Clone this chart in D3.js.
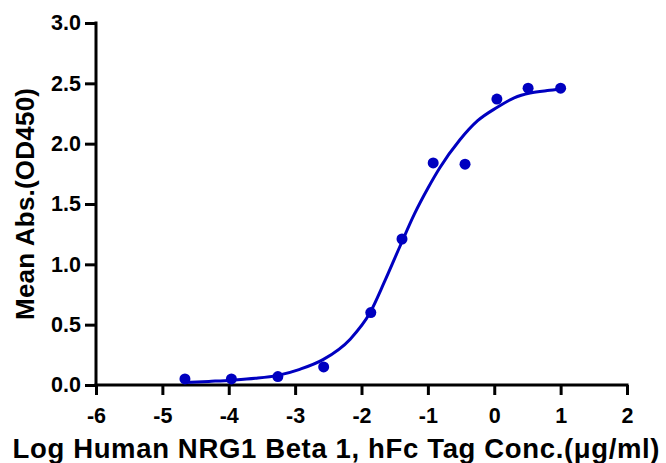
<!DOCTYPE html>
<html>
<head>
<meta charset="utf-8">
<script src="https://cdn.jsdelivr.net/npm/d3@7"></script>
<style>
  body { margin: 0; background: #fff; }
  svg { display: block; font-family: "Liberation Sans", Arial, sans-serif; font-weight: bold; }
</style>
</head>
<body>
<div id="chart"></div>
<script>
const width = 666;
const height = 463;
const margin = {top: 23, right: 39, bottom: 78, left: 96};

// measured points (log conc, OD450)
const logConc = [-4.66, -3.96, -3.26, -2.57, -1.86, -1.39, -0.92, -0.44, 0.04, 0.51, 1.0];
const absValues = [0.05, 0.05, 0.07, 0.15, 0.60, 1.21, 1.84, 1.83, 2.37, 2.46, 2.46];

// fitted curve
const curveX = [-4.66, -4.3, -3.96, -3.6, -3.26, -2.93, -2.58, -2.17, -1.87, -1.65, -1.42, -1.2, -1.0, -0.82, -0.52, -0.25, 0.04, 0.3, 0.54, 0.8, 1.0];
const curveY = [0.02, 0.03, 0.04, 0.055, 0.08, 0.13, 0.21, 0.38, 0.60, 0.86, 1.15, 1.42, 1.63, 1.80, 2.03, 2.19, 2.30, 2.38, 2.42, 2.44, 2.45];

const xTicks = [-6, -5, -4, -3, -2, -1, 0, 1, 2];
const yTicks = [0, 0.5, 1.0, 1.5, 2.0, 2.5, 3.0];

const blue = '#0000c0';

const svg = d3.select('#chart')
              .append('svg')
              .attr('width', width)
              .attr('height', height);

const xScale = d3.scaleLinear()
                 .domain([-6, 2])
                 .range([margin.left, width - margin.right]);

const yScale = d3.scaleLinear()
                 .domain([0, 3])
                 .range([height - margin.bottom, margin.top]);

const xAxis = svg.append('g')
   .attr('transform', 'translate(0,' + (height - margin.bottom) + ')')
   .call(d3.axisBottom(xScale).tickValues(xTicks).tickFormat(d => String(d)).tickSizeOuter(0).tickSize(10).tickPadding(13));

const yAxis = svg.append('g')
   .attr('transform', 'translate(' + margin.left + ',0)')
   .call(d3.axisLeft(yScale).tickValues(yTicks).tickFormat(d3.format('.1f')).tickSizeOuter(0).tickSize(11).tickPadding(4));

[xAxis, yAxis].forEach(ax => {
    ax.attr('font-family', null).attr('font-size', null);
    ax.select('.domain').attr('stroke', '#000').attr('stroke-width', 3);
    ax.selectAll('.tick line').attr('stroke', '#000').attr('stroke-width', 3);
    ax.selectAll('.tick text')
      .attr('fill', '#000')
      .style('font-size', '21.5px')
      .style('font-family', '"Liberation Sans", Arial, sans-serif')
      .style('font-weight', 'bold');
});

// stretch the domains to meet at the corner
xAxis.select('.domain').attr('d', 'M' + (margin.left - 1.5) + ',0H' + (width - margin.right + 1.5));
yAxis.select('.domain').attr('d', 'M0,' + (height - margin.bottom + 1.5) + 'V' + (margin.top - 1.5));

const curveData = curveX.map((x, i) => ({x: x, y: curveY[i]}));

svg.append('path')
   .datum(curveData)
   .attr('fill', 'none')
   .attr('stroke', blue)
   .attr('stroke-width', 3)
   .attr('d', d3.line()
                .x(d => xScale(d.x))
                .y(d => yScale(d.y))
                .curve(d3.curveMonotoneX));

svg.selectAll('circle')
   .data(logConc)
   .enter()
   .append('circle')
   .attr('cx', d => xScale(d))
   .attr('cy', (d, i) => yScale(absValues[i]))
   .attr('r', 5.5)
   .attr('fill', blue);

svg.append('text')
   .attr('x', 336)
   .attr('y', 458)
   .attr('text-anchor', 'middle')
   .attr('textLength', 647)
   .style('font-size', '27.5px')
   .text('Log Human NRG1 Beta 1, hFc Tag Conc.(μg/ml)');

svg.append('text')
   .attr('transform', 'translate(34,204) rotate(-90)')
   .attr('text-anchor', 'middle')
   .attr('textLength', 232)
   .style('font-size', '26px')
   .text('Mean Abs.(OD450)');
</script>
</body>
</html>
